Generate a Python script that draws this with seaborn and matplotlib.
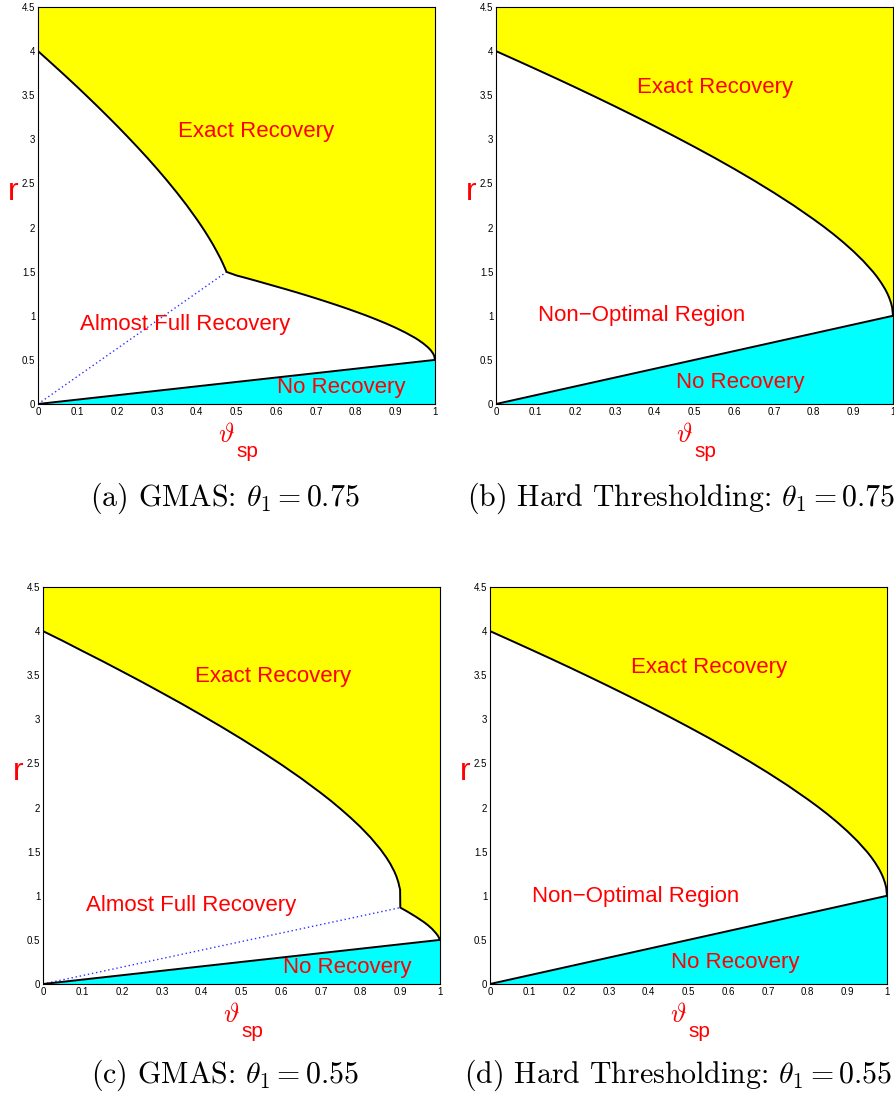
import numpy as np
import pandas as pd
import seaborn as sns
import matplotlib.pyplot as plt

# ---- values ----
# (a) GMAS, theta1 = 0.75 : upper boundary (exact recovery)
gmas75_x = [0, 0.025, 0.05, 0.075, 0.1, 0.125, 0.15, 0.175, 0.2, 0.225, 0.25, 0.275, 0.3,
            0.325, 0.35, 0.375, 0.4, 0.41, 0.42, 0.43, 0.44, 0.45, 0.46, 0.465, 0.47, 0.475,
            0.5, 0.525, 0.55, 0.575, 0.6, 0.625, 0.65, 0.675, 0.7, 0.725, 0.75, 0.775, 0.8,
            0.825, 0.85, 0.875, 0.9, 0.925, 0.95, 0.96, 0.97, 0.98, 0.985, 0.99, 0.995, 0.998, 1.0]
gmas75_r = [4.0, 3.899, 3.797, 3.694, 3.589, 3.482, 3.373, 3.262, 3.149, 3.033, 2.914, 2.792,
            2.665, 2.533, 2.395, 2.25, 2.094, 2.028, 1.96, 1.888, 1.813, 1.732, 1.646, 1.599,
            1.549, 1.497,
            1.457, 1.427, 1.396, 1.364, 1.332, 1.300, 1.267, 1.233, 1.198, 1.162, 1.125, 1.087,
            1.047, 1.006, 0.962, 0.916, 0.866, 0.811, 0.749, 0.72, 0.688, 0.651, 0.630, 0.605,
            0.573, 0.546, 0.5]
gmas75_low_x = [0, 1]
gmas75_low_r = [0, 0.5]
gmas75_dot_x = [0, 0.475]
gmas75_dot_r = [0, 1.497]

# (c) GMAS, theta1 = 0.55
gmas55_x = [0, 0.05, 0.1, 0.15, 0.2, 0.25, 0.3, 0.35, 0.4, 0.45, 0.5, 0.55, 0.6, 0.65, 0.7,
            0.725, 0.75, 0.775, 0.8, 0.825, 0.85, 0.865, 0.875, 0.885, 0.89, 0.895, 0.898,
            0.8995, 0.9, 0.92, 0.94, 0.96, 0.97, 0.98, 0.99, 0.995, 1.0]
gmas55_r = [4.0, 3.889, 3.773, 3.659, 3.541, 3.422, 3.299, 3.175, 3.046, 2.914, 2.778, 2.636,
            2.488, 2.332, 2.165, 2.077, 1.983, 1.884, 1.778, 1.661, 1.527, 1.433, 1.361, 1.275,
            1.222, 1.155, 1.096, 1.07, 0.866, 0.815, 0.76, 0.70, 0.665, 0.625, 0.575, 0.545, 0.5]
gmas55_low_x = [0, 1]
gmas55_low_r = [0, 0.5]
gmas55_dot_x = [0, 0.9]
gmas55_dot_r = [0, 0.866]

# (b), (d) hard thresholding (same boundaries for both theta1)
ht_x = [0, 0.05, 0.1, 0.15, 0.2, 0.25, 0.3, 0.35, 0.4, 0.45, 0.5, 0.55, 0.6, 0.65, 0.7,
        0.75, 0.8, 0.825, 0.85, 0.875, 0.9, 0.925, 0.95, 0.96, 0.97, 0.98, 0.985, 0.99,
        0.995, 0.998, 1.0]
ht_r = [4.0, 3.899, 3.797, 3.694, 3.589, 3.482, 3.373, 3.262, 3.149, 3.033, 2.914, 2.792,
        2.665, 2.533, 2.395, 2.25, 2.094, 2.012, 1.925, 1.832, 1.732, 1.622, 1.497, 1.44,
        1.376, 1.303, 1.260, 1.21, 1.146, 1.091, 1.0]
ht_low_x = [0, 1]
ht_low_r = [0, 1]

x_ticks = [0, 0.1, 0.2, 0.3, 0.4, 0.5, 0.6, 0.7, 0.8, 0.9, 1]
x_ticklabels = ['0', '0.1', '0.2', '0.3', '0.4', '0.5', '0.6', '0.7', '0.8', '0.9', '1']
y_ticks = [0, 0.5, 1, 1.5, 2, 2.5, 3, 3.5, 4, 4.5]
y_ticklabels = ['0', '0.5', '1', '1.5', '2', '2.5', '3', '3.5', '4', '4.5']

sns.set_style('white')
plt.rcParams['font.family'] = ['Liberation Sans', 'DejaVu Sans']
plt.rcParams['mathtext.fontset'] = 'cm'

W, H = 894, 1099
fig = plt.figure(figsize=(W / 100, H / 100), dpi=100)


def px_axes(left, top, right, bottom):
    return fig.add_axes([left / W, 1 - bottom / H, (right - left) / W, (bottom - top) / H])


def draw_panel(ax, up_x, up_r, low_x, low_r, dot_x=None, dot_r=None):
    ax.fill_between(up_x, up_r, 4.5, color='#ffff00', lw=0)
    ax.fill_between(low_x, 0, low_r, color='#00ffff', lw=0)
    if dot_x is not None:
        sns.lineplot(x=dot_x, y=dot_r, ax=ax, color='#3030ff', lw=1.0,
                     linestyle=(0, (1, 2)), estimator=None, sort=False)
    sns.lineplot(x=up_x, y=up_r, ax=ax, color='black', lw=1.4, estimator=None, sort=False)
    sns.lineplot(x=low_x, y=low_r, ax=ax, color='black', lw=1.4, estimator=None, sort=False)

    ax.set_xlim(0, 1)
    ax.set_ylim(0, 4.5)
    ax.set_xticks(x_ticks)
    ax.set_xticklabels(x_ticklabels)
    ax.set_yticks(y_ticks)
    ax.set_yticklabels(y_ticklabels)
    ax.tick_params(direction='in', length=3, width=0.6, top=True, right=True,
                   labelsize=7, pad=2, colors='black')
    for s in ax.spines.values():
        s.set_color('black')
        s.set_linewidth(0.8)

    ax.set_xlabel('')
    ax.set_ylabel('')
    ax.text(-0.063, 0.535, 'r', transform=ax.transAxes, color='red', fontsize=23,
            ha='center', va='center')
    ax.text(0.474, -0.078, r'$\vartheta$', transform=ax.transAxes, color='red',
            fontsize=19, ha='center', va='center')
    ax.text(0.527, -0.12, 'sp', transform=ax.transAxes, color='red',
            fontsize=15, ha='center', va='center')


red = dict(color='red', fontsize=16, ha='center', va='center')

ax_a = px_axes(38, 7, 435, 404)
draw_panel(ax_a, gmas75_x, gmas75_r, gmas75_low_x, gmas75_low_r, gmas75_dot_x, gmas75_dot_r)
ax_a.text(0.55, 3.09, 'Exact Recovery', **red)
ax_a.text(0.37, 0.90, 'Almost Full Recovery', **red)
ax_a.text(0.765, 0.19, 'No Recovery', **red)

ax_b = px_axes(496, 7, 893, 404)
draw_panel(ax_b, ht_x, ht_r, ht_low_x, ht_low_r)
ax_b.text(0.551, 3.59, 'Exact Recovery', **red)
ax_b.text(0.366, 1.00, 'Non\u2212Optimal Region', **red)
ax_b.text(0.615, 0.24, 'No Recovery', **red)

ax_c = px_axes(43, 587, 440, 984)
draw_panel(ax_c, gmas55_x, gmas55_r, gmas55_low_x, gmas55_low_r, gmas55_dot_x, gmas55_dot_r)
ax_c.text(0.58, 3.49, 'Exact Recovery', **red)
ax_c.text(0.372, 0.89, 'Almost Full Recovery', **red)
ax_c.text(0.767, 0.19, 'No Recovery', **red)

ax_d = px_axes(490, 587, 887, 984)
draw_panel(ax_d, ht_x, ht_r, ht_low_x, ht_low_r)
ax_d.text(0.552, 3.59, 'Exact Recovery', **red)
ax_d.text(0.368, 0.99, 'Non\u2212Optimal Region', **red)
ax_d.text(0.618, 0.24, 'No Recovery', **red)

# captions
cap = dict(fontsize=21.5, ha='center', va='center', color='black', family='cmr10')
fig.text(225 / W, 1 - 498 / H, r'(a) GMAS: $\theta_1 = 0.75$', **cap)
fig.text(681 / W, 1 - 498 / H, r'(b) Hard Thresholding: $\theta_1 = 0.75$', **cap)
fig.text(225 / W, 1 - 1075 / H, r'(c) GMAS: $\theta_1 = 0.55$', **cap)
fig.text(678 / W, 1 - 1075 / H, r'(d) Hard Thresholding: $\theta_1 = 0.55$', **cap)

fig.savefig('out.png', dpi=100)
